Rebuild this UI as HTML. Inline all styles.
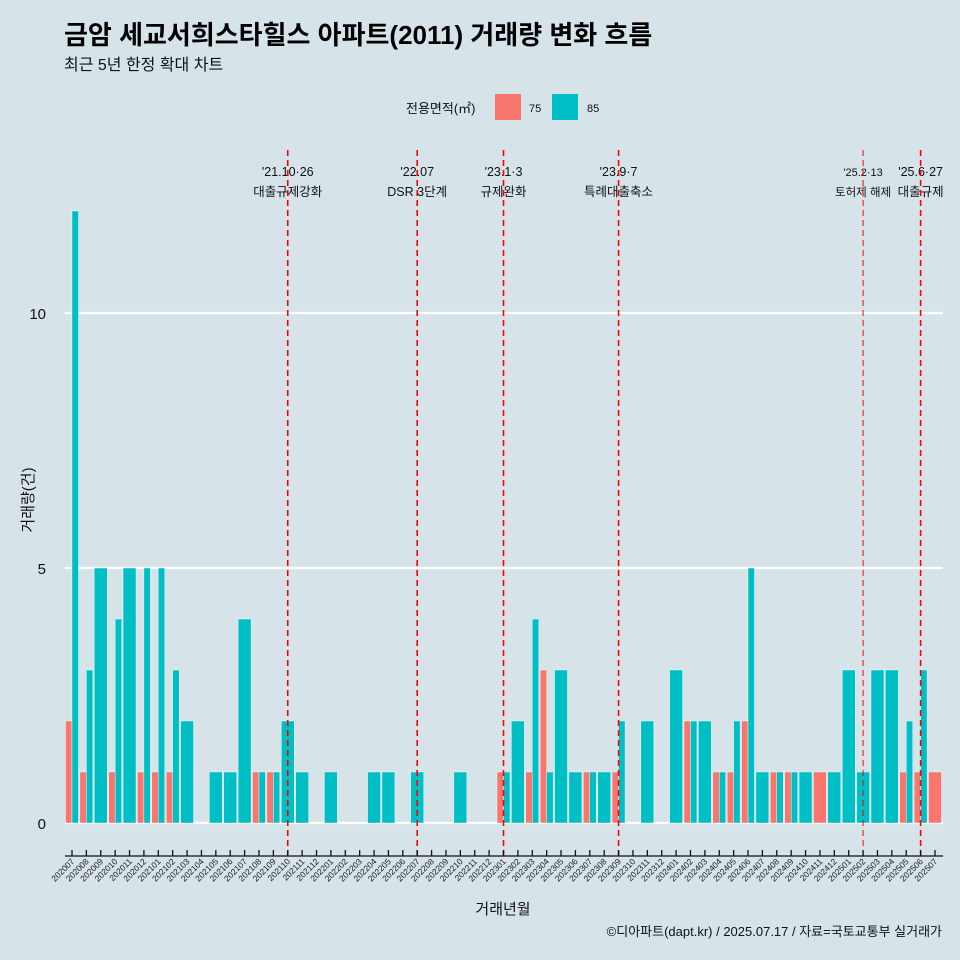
<!DOCTYPE html>
<html><head><meta charset="utf-8">
<style>
body{margin:0;background:#d6e4ea;}
svg{display:block;font-family:"Liberation Sans","Noto Sans CJK KR",sans-serif;}
</style></head>
<body>
<svg id="chart" width="960" height="960" xmlns="http://www.w3.org/2000/svg">
<rect width="960" height="960" fill="#d6e4ea"/>
<text x="64" y="44" font-size="26" font-weight="bold" fill="#000">금암 세교서희스타힐스 아파트(2011) 거래량 변화 흐름</text>
<text x="64" y="70" font-size="16" fill="#111">최근 5년 한정 확대 차트</text>
<g>
<text x="406" y="113" font-size="13" fill="#111">전용면적(㎡)</text>
<rect x="495" y="94" width="26" height="26" fill="#f8766d"/>
<text x="529" y="112" font-size="11" fill="#111">75</text>
<rect x="552" y="94" width="26" height="26" fill="#00bfc4"/>
<text x="587" y="112" font-size="11" fill="#111">85</text>
</g>
<g id="grid"></g>
<g id="bars"></g>
<g id="vlines"></g>
<g id="axes"></g>
<text x="0" y="0" transform="translate(33,500) rotate(-90)" text-anchor="middle" font-size="15" fill="#111">거래량(건)</text>
<text x="503" y="914" text-anchor="middle" font-size="15" fill="#111">거래년월</text>
<text x="942" y="936" text-anchor="end" font-size="13" fill="#111">©디아파트(dapt.kr) / 2025.07.17 / 자료=국토교통부 실거래가</text>
</svg>
<script>
const months=["202007","202008","202009","202010","202011","202012","202101","202102","202103","202104","202105","202106","202107","202108","202109","202110","202111","202112","202201","202202","202203","202204","202205","202206","202207","202208","202209","202210","202211","202212","202301","202302","202303","202304","202305","202306","202307","202308","202309","202310","202311","202312","202401","202402","202403","202404","202405","202406","202407","202408","202409","202410","202411","202412","202501","202502","202503","202504","202505","202506","202507"];
const s75=[2,1,0,1,0,1,1,1,0,0,0,0,0,1,1,0,0,0,0,0,0,0,0,0,0,0,0,0,0,0,1,0,1,3,0,0,1,0,1,0,0,0,0,2,0,1,1,2,0,1,1,0,1,0,0,0,0,0,1,1,1];
const s85=[12,3,5,4,5,5,5,3,2,0,1,1,4,1,1,2,1,0,1,0,0,1,1,0,1,0,0,1,0,0,1,2,4,1,3,1,1,1,2,0,2,0,3,2,2,1,2,5,1,1,1,1,0,1,3,1,3,3,2,3,0];
const yTicks=[0,5,10];
const events=["202110","202207","202301","202309","202502","202506"];
const eventLine1=["'21.10·26","'22.07","'23.1·3","'23.9·7","'25.2·13","'25.6·27"];
const eventLine2=["대출규제강화","DSR 3단계","규제완화","특례대출축소","토허제 해제","대출규제"];
const eventThin=[false,false,false,false,true,false];

const NS="http://www.w3.org/2000/svg";
const X0=72, STEP=(935-72)/60, PL=65, PR=943;
const xS=i=>X0+i*STEP;
const yS=v=>823-v*51;
function mk(tag,attrs,parent){const e=document.createElementNS(NS,tag);for(const k in attrs)e.setAttribute(k,attrs[k]);parent.appendChild(e);return e;}
const grid=document.getElementById('grid'),bars=document.getElementById('bars'),vl=document.getElementById('vlines'),axes=document.getElementById('axes');
yTicks.forEach(t=>{
 const l=mk('line',{x1:PL,x2:PR,y1:yS(t),y2:yS(t),stroke:'#fff','stroke-width':2.2},grid);
 
 
 const tx=mk('text',{x:46,y:yS(t)+6,'text-anchor':'end','font-size':15,fill:'#111'},axes);
 tx.textContent=t;
 
 
});
const BW=STEP*0.9;
months.forEach((m,i)=>{
 const a=s75[i],b=s85[i];const cx=xS(i);
 const both=a>0&&b>0;
 const draw=(v,x,w,col,nm)=>{
  const r=mk('rect',{x:x,y:yS(v),width:w,height:yS(0)-yS(v),fill:col,stroke:'#fff','stroke-width':0.4},bars);
  
  
 };
 if(both){draw(a,cx-BW/2,BW/2,'#f8766d','bar-75');draw(b,cx,BW/2,'#00bfc4','bar-85');}
 else if(a>0)draw(a,cx-BW/2,BW,'#f8766d','bar-75');
 else if(b>0)draw(b,cx-BW/2,BW,'#00bfc4','bar-85');
});
mk('line',{x1:PL,x2:PR,y1:856,y2:856,stroke:'#111','stroke-width':1.3},axes);
months.forEach((m,i)=>{
 const x=xS(i);
 const t=mk('line',{x1:x,x2:x,y1:850,y2:856,stroke:'#111','stroke-width':1.3},axes);
 
 
 const tx=mk('text',{x:x+3,y:862,'text-anchor':'end','font-size':8.5,fill:'#222',transform:`rotate(-45 ${x+3} 862)`},axes);
 tx.textContent=m;
 
 
});
events.forEach((e,k)=>{
 const i=months.indexOf(e);const x=xS(i);
 const small=eventThin[k];
 const t1=mk('text',{x:x,y:176,'text-anchor':'middle','font-size':small?11:12.5,fill:'#111'},vl);
 t1.textContent=eventLine1[k];
 
 
 const t2=mk('text',{x:x,y:196,'text-anchor':'middle','font-size':small?11.5:12.5,fill:'#111'},vl);
 t2.textContent=eventLine2[k];
 
 
 const l=mk('line',{x1:x,x2:x,y1:150,y2:855,stroke:'#ff0000','stroke-width':small?1:1.6,'stroke-dasharray':'6 4'},vl);
 
 
});
</script>
</body></html>
